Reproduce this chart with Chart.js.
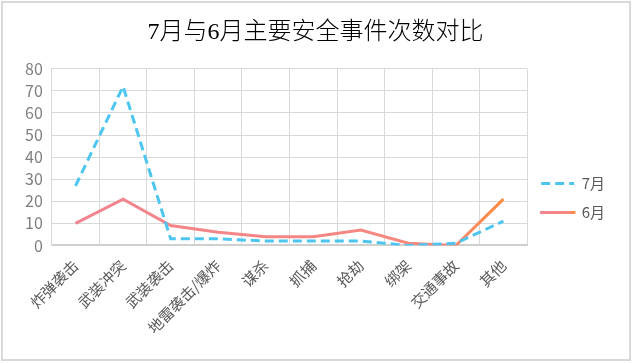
<!DOCTYPE html>
<html>
<head>
<meta charset="utf-8">
<script src="https://cdn.jsdelivr.net/npm/chart.js@4/dist/chart.umd.min.js"></script>
<style>
  html, body { margin: 0; padding: 0; background: #fff; }
  #wrap { position: relative; width: 632px; height: 363px; }
  #frame { position: absolute; left: 1px; top: 1px; width: 626px; height: 356px;
           border: 2px solid #D9D9D9; pointer-events: none; }
</style>
</head>
<body>
<div id="wrap">
  <canvas id="c" width="632" height="363"></canvas>
  <div id="frame"></div>
</div>
<script>
const categories = ['炸弹袭击', '武装冲突', '武装袭击', '地雷袭击/爆炸', '谋杀', '抓捕', '抢劫', '绑架', '交通事故', '其他'];
const july = [27, 72, 3, 3, 2, 2, 2, 0, 1, 11];
const june = [10, 21, 9, 6, 4, 4, 7, 1, 0, 21];
const seriesNames = ['7月', '6月'];
const yMin = 0, yMax = 80, yStep = 10;

const CJK = "'Noto Sans CJK SC', 'Noto Sans', sans-serif";
const julyDash = [9, 5];

// pink -> orange, like the june line
function juneGradient(ctx, x0, x1) {
    const g = ctx.createLinearGradient(x0, 0, x1, 0);
    g.addColorStop(0, '#F2848F');
    g.addColorStop(0.86, '#F6897C');
    g.addColorStop(1, '#FF8A3C');
    return g;
}

// legend items come from point styles, so put back dash / width / gradient
const legendFix = {
    id: 'legendFix',
    beforeDraw(chart) {
        const lg = chart.legend;
        if (!lg || !lg.legendHitBoxes || !lg.legendItems) return;
        const items = lg.legendItems;
        const hb = lg.legendHitBoxes[1];
        const w = lg.options.labels.pointStyleWidth;
        items[0].lineDash = julyDash;
        items[0].lineWidth = 3;
        items[1].lineWidth = 3;
        items[1].lineCap = 'round';
        items[1].strokeStyle = juneGradient(chart.ctx, hb.left, hb.left + w);
    }
};

new Chart(document.getElementById('c'), {
    type: 'line',
    data: {
        labels: categories,
        datasets: [{
            label: seriesNames[0],
            data: july,
            borderColor: '#4CC6F1',
            backgroundColor: '#4CC6F1',
            borderWidth: 3,
            borderDash: julyDash,
            pointRadius: 0,
            tension: 0,
            pointStyle: 'line'
        }, {
            label: seriesNames[1],
            data: june,
            borderColor: (c) => {
                const chart = c.chart;
                if (!chart.chartArea) return '#F2848F';
                const xs = chart.scales.x;
                return juneGradient(chart.ctx, xs.getPixelForValue(0), xs.getPixelForValue(categories.length - 1));
            },
            backgroundColor: '#F2848F',
            borderWidth: 3,
            pointRadius: 0,
            tension: 0,
            pointStyle: 'line'
        }]
    },
    options: {
        responsive: false,
        animation: false,
        layout: { padding: { left: 16, right: 17, top: 0, bottom: 15 } },
        plugins: {
            title: {
                display: true,
                text: '7月与6月主要安全事件次数对比',
                color: '#000',
                font: { family: "'Liberation Serif', " + CJK, size: 24, weight: '300' },
                padding: { top: 18, bottom: 22 }
            },
            legend: {
                position: 'right',
                align: 'center',
                title: { display: true, text: ' ', font: { size: 10 }, padding: 18 },
                labels: {
                    usePointStyle: true,
                    pointStyleWidth: 33,
                    color: '#595959',
                    font: { family: CJK, size: 15 },
                    padding: 14
                }
            },
            tooltip: { enabled: false }
        },
        scales: {
            x: {
                offset: true,
                grid: { color: '#D9D9D9', offset: true, drawTicks: false },
                border: { color: '#D0D0D0', width: 2 },
                ticks: {
                    color: '#595959',
                    font: { family: CJK, size: 15 },
                    maxRotation: 45,
                    minRotation: 45,
                    padding: 11,
                    autoSkip: false
                }
            },
            y: {
                min: yMin,
                max: yMax,
                grid: { color: '#D9D9D9', drawTicks: false },
                border: { color: '#D9D9D9', width: 1 },
                ticks: {
                    stepSize: yStep,
                    autoSkip: false,
                    color: '#7F7F7F',
                    font: { family: CJK, size: 16, lineHeight: 1 },
                    padding: 9
                }
            }
        }
    },
    plugins: [legendFix]
});
</script>
</body>
</html>
